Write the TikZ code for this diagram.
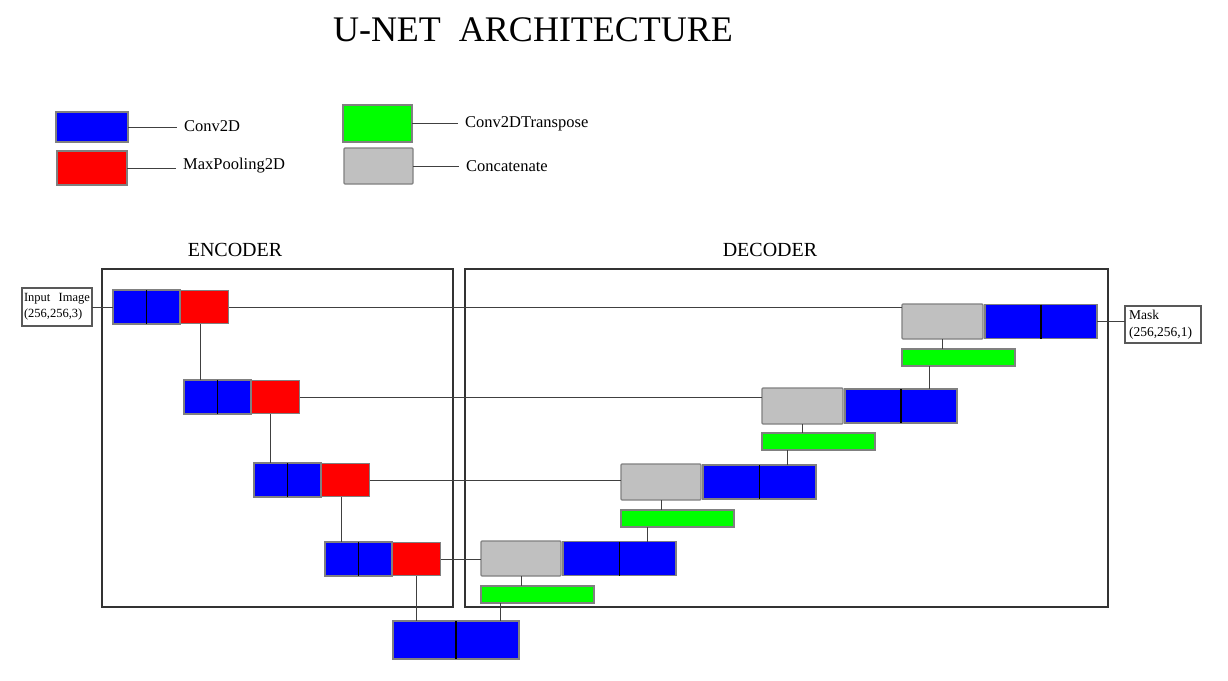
\documentclass[tikz,border=0pt]{standalone}
\usepackage{fontspec}
\setmainfont{Liberation Serif}
\definecolor{unetblue}{RGB}{0,0,255}
\definecolor{unetred}{RGB}{255,0,0}
\definecolor{unetgreen}{RGB}{0,255,0}
\definecolor{unetgray}{RGB}{192,192,192}
\usetikzlibrary{positioning}

\begin{document}
\begin{tikzpicture}[x=1pt, y=-1pt,
  box/.style={draw=black!50, line width=1.3pt, inner sep=0pt, outer sep=0pt},
  conv/.style={box, fill=unetblue, minimum width=33.5pt, minimum height=34pt},
  pool/.style={box, fill=unetred, minimum width=48.5pt, minimum height=33pt},
  upconv/.style={box, fill=unetgreen, minimum width=113pt, minimum height=17pt},
  concat/.style={box, fill=unetgray, rounded corners=1pt, minimum width=80pt, minimum height=35pt},
  link/.style={draw=black!75, line width=0.8pt},
  split/.style={draw=black, line width=1.2pt},
  frame/.style={draw=black!80, line width=1.3pt, inner sep=0pt, outer sep=0pt},
  key/.style={font=\fontsize{16.5}{19}\selectfont, inner xsep=7pt, inner ysep=2pt},
  io/.style={draw=black!65, line width=1.3pt, align=left, inner sep=2pt, outer sep=0pt}]
  \useasboundingbox (0,0) rectangle (1228,680);

  \node[font=\fontsize{36}{40}\selectfont] (title) at (533,30) {U-NET\ \ ARCHITECTURE};

  % legend
  \node[conv, minimum width=72pt, minimum height=30pt, anchor=north west] (kconv) at (56,112) {};
  \node[pool, minimum width=70pt, minimum height=34pt, anchor=north west] (kpool) at (57,151) {};
  \node[upconv, minimum width=69pt, minimum height=37pt, anchor=north west] (kup) at (343,105) {};
  \node[concat, minimum width=69pt, minimum height=36pt, anchor=north west] (kcat) at (344,148) {};
  \node[key, anchor=west] (tconv) at (177,126) {Conv2D};
  \node[key, anchor=west] (tpool) at (176,166) {MaxPooling2D};
  \node[key, anchor=west] (tup) at (458,124) {Conv2DTranspose};
  \node[key, anchor=west] (tcat) at (459,166) {Concatenate};
  \draw[link] (kconv.east) -- (kconv.east -| tconv.west);
  \draw[link] (kpool.east) -- (kpool.east -| tpool.west);
  \draw[link] (kup.east) -- (kup.east -| tup.west);
  \draw[link] (kcat.east) -- (kcat.east -| tcat.west);

  % frames
  \node[font=\fontsize{20}{24}\selectfont] (enclabel) at (235,250) {ENCODER};
  \node[font=\fontsize{20}{24}\selectfont] (declabel) at (770,250) {DECODER};
  \node[frame, minimum width=351pt, minimum height=338pt, anchor=north west] (enc) at (102,269) {};
  \node[frame, minimum width=643pt, minimum height=338pt, anchor=north west] (dec) at (465,269) {};

  % input / output
  \node[io, font=\fontsize{12.5}{16}\selectfont, text width=66pt, minimum height=38pt, anchor=north west] (in) at (22,288) {Input\ \ Image\\(256,256,3)};
  \node[io, font=\fontsize{13.5}{17}\selectfont, inner xsep=4pt, text width=68pt, minimum height=37pt, anchor=north west] (mask) at (1125,306) {Mask\\(256,256,1)};

  % encoder
  \node[conv, anchor=north west] (c1a) at (113,290) {};
  \node[conv, right=0pt of c1a] (c1b) {};
  \node[pool, right=0pt of c1b] (p1) {};

  \node[conv, anchor=north west] (c2a) at (184,380) {};
  \node[conv, right=0pt of c2a] (c2b) {};
  \node[pool, right=0pt of c2b] (p2) {};

  \node[conv, anchor=north west] (c3a) at (254,463) {};
  \node[conv, right=0pt of c3a] (c3b) {};
  \node[pool, right=0pt of c3b] (p3) {};

  \node[conv, anchor=north west] (c4a) at (325,542) {};
  \node[conv, right=0pt of c4a] (c4b) {};
  \node[pool, right=0pt of c4b] (p4) {};

  % bottleneck
  \node[conv, minimum width=63pt, minimum height=38pt, anchor=north west] (b1a) at (393,621) {};
  \node[conv, minimum width=63pt, minimum height=38pt, right=0pt of b1a] (b1b) {};

  % decoder
  \node[concat, anchor=north west] (g4) at (481,541) {};
  \node[conv, minimum width=56.5pt, right=2pt of g4] (d4a) {};
  \node[conv, minimum width=56.5pt, right=0pt of d4a] (d4b) {};
  \node[upconv, below=10pt of g4.south west, anchor=north west] (u4) {};

  \node[concat, minimum height=36pt, anchor=north west] (g3) at (621,464) {};
  \node[conv, minimum width=56.5pt, right=2pt of g3] (d3a) {};
  \node[conv, minimum width=56.5pt, right=0pt of d3a] (d3b) {};
  \node[upconv, below=10pt of g3.south west, anchor=north west] (u3) {};

  \node[concat, minimum width=81pt, minimum height=36pt, anchor=north west] (g2) at (762,388) {};
  \node[conv, minimum width=56pt, right=2pt of g2] (d2a) {};
  \node[conv, minimum width=56pt, right=0pt of d2a] (d2b) {};
  \node[upconv, below=9pt of g2.south west, anchor=north west] (u2) {};

  \node[concat, minimum width=81pt, anchor=north west] (g1) at (902,304) {};
  \node[conv, minimum width=56pt, right=2pt of g1] (d1a) {};
  \node[conv, minimum width=56pt, right=0pt of d1a] (d1b) {};
  \node[upconv, below=10pt of g1.south west, anchor=north west] (u1) {};

  \draw[split] (c1a.north east) -- (c1a.south east);
  \draw[split] (c2a.north east) -- (c2a.south east);
  \draw[split] (c3a.north east) -- (c3a.south east);
  \draw[split] (c4a.north east) -- (c4a.south east);
  \draw[split] (b1a.north east) -- (b1a.south east);
  \draw[split] (d4a.north east) -- (d4a.south east);
  \draw[split] (d3a.north east) -- (d3a.south east);
  \draw[split] (d2a.north east) -- (d2a.south east);
  \draw[split] (d1a.north east) -- (d1a.south east);

  % down path
  \draw[link] (in.east) -- (c1a.west);
  \draw[link] (c2a.north |- p1.south) -- (c2a.north);
  \draw[link] (c3a.north |- p2.south) -- (c3a.north);
  \draw[link] (c4a.north |- p3.south) -- (c4a.north);
  \draw[link] (p4.south) -- (p4.south |- b1a.north);

  % skips
  \draw[link] (p1.east) -- (p1.east -| g1.west);
  \draw[link] (p2.east) -- (p2.east -| g2.west);
  \draw[link] (p3.east) -- (p3.east -| g3.west);
  \draw[link] (p4.east) -- (p4.east -| g4.west);

  % up path
  \coordinate (t4) at ([xshift=19pt]u4.south west);
  \draw[link] (t4) -- (t4 |- b1b.north);
  \draw[link] (g4.south) -- (g4.south |- u4.north);
  \draw[link] (d4b.north) -- (d4b.north |- u3.south);
  \draw[link] (g3.south) -- (g3.south |- u3.north);
  \draw[link] (d3b.north) -- (d3b.north |- u2.south);
  \draw[link] (g2.south) -- (g2.south |- u2.north);
  \draw[link] (d2b.north) -- (d2b.north |- u1.south);
  \draw[link] (g1.south) -- (g1.south |- u1.north);
  \draw[link] (d1b.east) -- (d1b.east -| mask.west);
\end{tikzpicture}
\end{document}
